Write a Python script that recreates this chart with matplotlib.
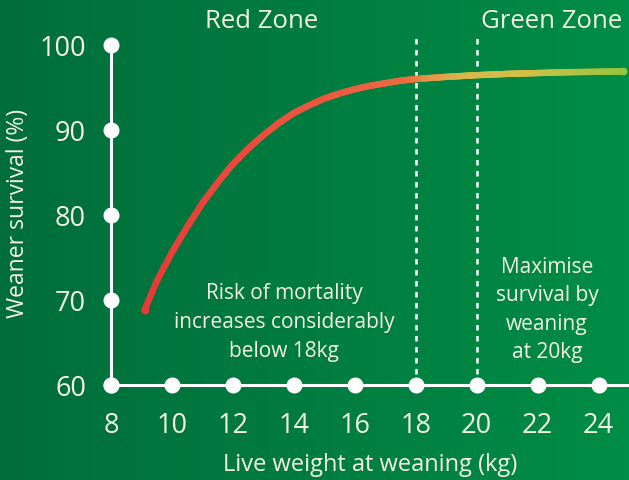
import numpy as np
import matplotlib
matplotlib.use("Agg")
import matplotlib.pyplot as plt
from matplotlib.collections import LineCollection
from matplotlib.colors import LinearSegmentedColormap

# Data
weight = [9.1, 9.5, 10.0, 10.5, 11.0, 11.5, 12.0, 12.5, 13.0, 13.5, 14.0, 14.5, 15.0,
          15.5, 16.0, 16.5, 17.0, 17.5, 18.0, 19.0, 20.0, 21.0, 22.0, 23.0, 24.0, 24.8]
survival = [68.8, 72.2, 75.6, 78.6, 81.4, 83.8, 86.0, 87.8, 89.4, 90.8, 92.0, 92.9, 93.7,
            94.3, 94.8, 95.2, 95.5, 95.8, 96.0, 96.25, 96.45, 96.6, 96.7, 96.8, 96.85, 96.9]
xticks = [8, 10, 12, 14, 16, 18, 20, 22, 24]
yticks = [60, 70, 80, 90, 100]
zone_lines = [18, 20]
zone_titles = ["Red Zone", "Green Zone"]
notes = ["Risk of mortality\nincreases considerably\nbelow 18kg",
         "Maximise\nsurvival by\nweaning\nat 20kg"]

FONT = ["Open Sans", "DejaVu Sans"]
plt.rcParams['font.family'] = FONT
WHITE = "#ffffff"
TXT = "#f4f1e0"

W, H = 629, 481
fig = plt.figure(figsize=(W / 100, H / 100), dpi=100)

# background gradient
bg = fig.add_axes([0, 0, 1, 1], zorder=-10)
bg_cmap = LinearSegmentedColormap.from_list("bg", ["#006e3b", "#007c40", "#008d45"])
grad = np.linspace(0, 1, 256).reshape(1, -1)
bg.imshow(grad, aspect="auto", cmap=bg_cmap, extent=[0, 1, 0, 1])
bg.set_axis_off()

left, right = 111 / W, 1.0
bottom, top = (H - 386) / H, (H - 46) / H
ax = fig.add_axes([left, bottom, right - left, top - bottom])
ax.patch.set_alpha(0)
ax.set_xlim(8, 25)
ax.set_ylim(60, 100)

for s in ["top", "right"]:
    ax.spines[s].set_visible(False)
for s in ["left", "bottom"]:
    ax.spines[s].set_color(WHITE)
    ax.spines[s].set_linewidth(2.2)
ax.spines["left"].set_bounds(60, 100)

ax.set_xticks(xticks)
ax.set_yticks(yticks)
ax.tick_params(length=0, colors=TXT, labelsize=19.5)
ax.tick_params(axis="x", pad=19)
ax.tick_params(axis="y", pad=18)

# dots on axes
ax.plot(xticks, [60] * len(xticks), "o", color=WHITE, ms=10.5, clip_on=False, zorder=5)
ax.plot([8] * len(yticks), yticks, "o", color=WHITE, ms=10.5, clip_on=False, zorder=5)

# zone lines
for xv in zone_lines:
    ax.plot([xv, xv], [60, 100.9], color=WHITE, lw=1.8, ls=(0, (2.2, 2.2)), clip_on=False, zorder=2)

# gradient curve
xs = np.array(weight)
ys = np.array(survival)
fine_x = np.linspace(xs[0], xs[-1], 400)
fine_y = np.interp(fine_x, xs, ys)
pts = np.array([fine_x, fine_y]).T.reshape(-1, 1, 2)
segs = np.concatenate([pts[:-1], pts[1:]], axis=1)
cmap = LinearSegmentedColormap.from_list(
    "curve",
    [(0.0, "#e43b39"), (0.4, "#ec5a3f"), (0.55, "#ec6a40"), (0.6, "#e3964a"),
     (0.68, "#d8b84a"), (0.8, "#d4be45"), (1.0, "#98c43e")])
lc = LineCollection(segs, cmap=cmap, norm=plt.Normalize(xs[0], xs[-1]),
                    linewidth=4.6, capstyle="round", joinstyle="round", zorder=3)
lc.set_array((fine_x[:-1] + fine_x[1:]) / 2)
ax.add_collection(lc)
ax.plot([xs[0]], [ys[0]], "o", color="#e43b39", ms=4.6, zorder=3)
ax.plot([xs[-1]], [ys[-1]], "o", color="#98c43e", ms=4.6, zorder=3, clip_on=False)

# texts
fig.text(262 / W, 1 - 22 / H, zone_titles[0], color=TXT, fontsize=18.5, ha="center", va="center")
fig.text(552 / W, 1 - 22 / H, zone_titles[1], color=TXT, fontsize=18.5, ha="center", va="center")
fig.text(284 / W, 1 - 323 / H, notes[0], color=TXT, fontsize=15, ha="center", va="center",
         linespacing=1.5)
fig.text(547 / W, 1 - 310 / H, notes[1], color=TXT, fontsize=15, ha="center", va="center",
         linespacing=1.45)
fig.text(370 / W, 1 - 465 / H, "Live weight at weaning (kg)", color=TXT, fontsize=17,
         ha="center", va="center")
fig.text(18 / W, 1 - 213 / H, "Weaner survival (%)", color=TXT, fontsize=16.5,
         ha="center", va="center", rotation=90)

fig.savefig("out.png", dpi=100)
